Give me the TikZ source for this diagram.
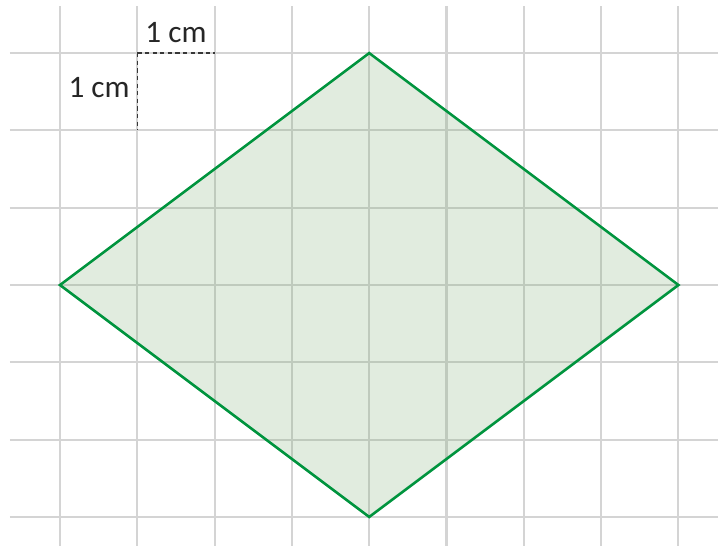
\documentclass[tikz,border=0pt]{standalone}
\usepackage{fontspec}
\setmainfont{Carlito}
\usepackage{tikz}
\usetikzlibrary{positioning}
\definecolor{gridgray}{RGB}{212,212,212}
\definecolor{rhombgreen}{RGB}{0,148,62}
\definecolor{rhombfill}{RGB}{120,170,110}
\definecolor{dashgray}{RGB}{55,55,55}
\tikzset{
  gridline/.style={draw=gridgray,line width=0.75pt},
  rhombline/.style={draw=rhombgreen,line width=0.95pt,line join=miter},
  rhombarea/.style={fill=rhombfill,fill opacity=0.22},
  unitline/.style={draw=dashgray,line width=0.45pt,dash pattern=on 1.6pt off 1.2pt},
  unitlabel/.style={font=\fontsize{11.5}{14}\selectfont,text=black!85,inner sep=0pt}
}
\begin{document}
\begin{tikzpicture}[x=1cm,y=1cm]
  \useasboundingbox (-0.776,-3.376) rectangle (8.512,3.687);
  % grid
  \foreach \i in {0,...,8}
    \draw[gridline] (\i,-3.376) -- (\i,3.609);
  \foreach \j in {-3,...,3}
    \draw[gridline] (-0.647,\j) -- (8.512,\j);
  % rhombus
  \coordinate (W) at (0,0);
  \coordinate (N) at (4,3);
  \coordinate (E) at (8,0);
  \coordinate (S) at (4,-3);
  \fill[rhombarea] (W) -- (N) -- (E) -- (S) -- cycle;
  \draw[rhombline] (W) -- (N) -- (E) -- (S) -- cycle;
  % unit square
  \coordinate (corner) at (1,3);
  \coordinate (right) at (2,3);
  \coordinate (below) at (1,2);
  \draw[unitline] (corner) -- node[above=3.6pt,unitlabel] {1 cm} (right);
  \draw[unitline] (corner) -- node[left=2.6pt,unitlabel,yshift=1.4pt] {1 cm} (below);
\end{tikzpicture}
\end{document}
